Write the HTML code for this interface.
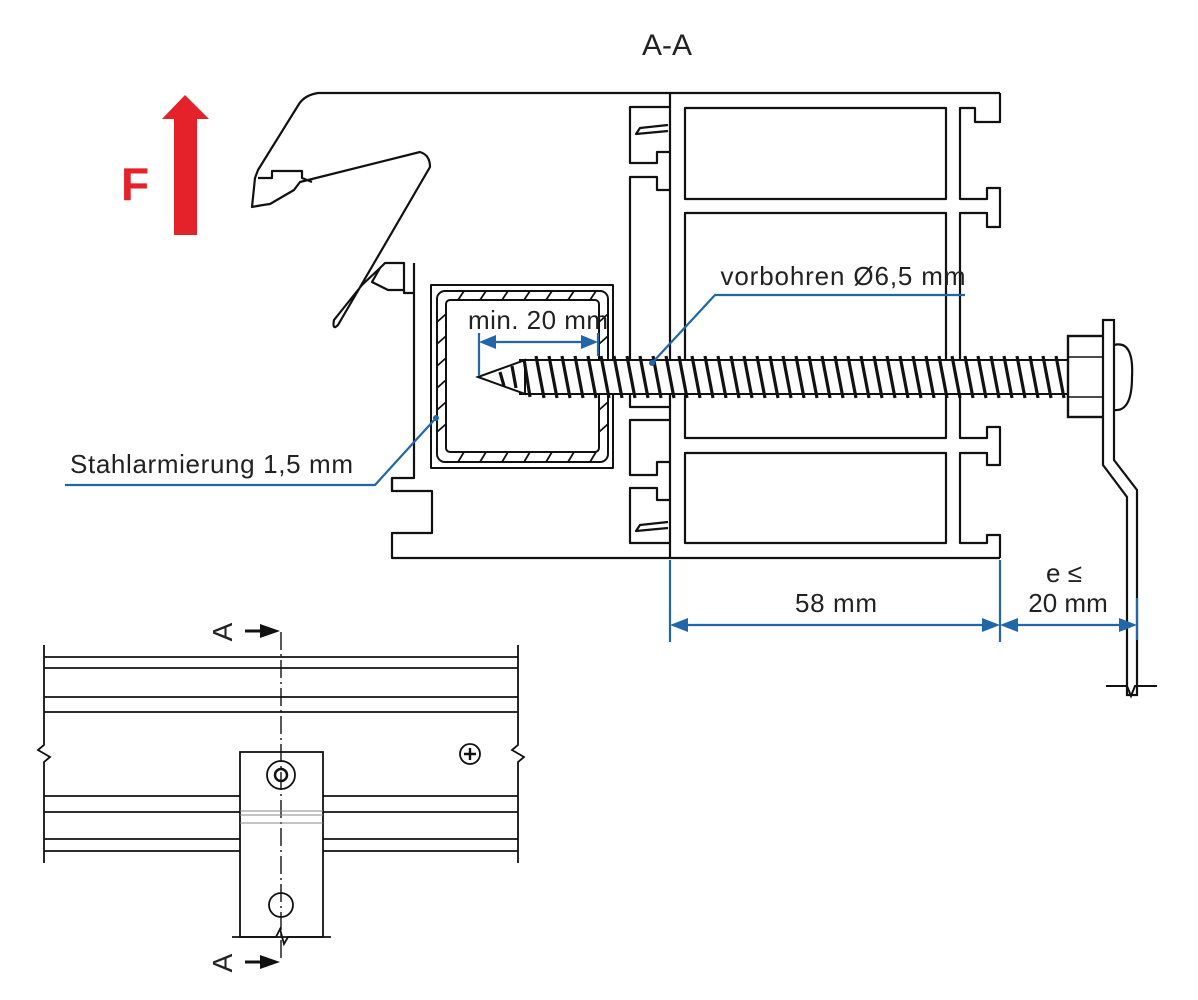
<!DOCTYPE html>
<html><head><meta charset="utf-8"><style>
html,body{margin:0;padding:0;background:#fff;}
svg{display:block;font-family:"Liberation Sans",Arial,sans-serif;}
</style></head><body>
<svg width="1198" height="1000" viewBox="0 0 1198 1000" xmlns="http://www.w3.org/2000/svg">
<rect width="1198" height="1000" fill="#fff"/>
<text x="667" y="55" font-size="30" text-anchor="middle" fill="#222">A-A</text>
<!-- F arrow -->
<polygon points="162,119 185,95 209,119 197,119 197,235 174,235 174,119" fill="#e52129"/>
<text x="121" y="200" font-size="46" font-weight="bold" fill="#e52129">F</text>

<g fill="none" stroke="#111" stroke-width="2.2" stroke-linejoin="round">
<!-- hook -->
<path d="M1000,93 H318 Q305,95 299,104 L258,170 L255,178 L252,207 Q262,205 270,204 L294,190 L300,182 L420,152 Q430,155 430,167 L338,325 Q332,331 334,320 L362,285 L380,268 L385,263 H404 V293 H414"/>
<path d="M258,178 H272 V171 H302 V178 L312,182"/>
<path d="M380,268 L372,282 L388,290 H404"/>
<!-- left lower wall -->
<path d="M414,263 V478 H392 V491 H432 V533 H392 V558 H1000"/>
<path d="M392,491 V478"/>
<!-- center vertical -->
<path d="M670,93 V558"/>
<!-- left column -->
<path d="M670,107 H630 V163 H657 V152 H670"/>
<path d="M668,125 L640,128 L636,134 L668,131"/>
<path d="M670,190 H657 V177 H630 V407 H670"/>
<path d="M670,420 H630 V475 H657 V462 H670"/>
<path d="M670,500 H657 V488 H630 V543 H670"/>
<path d="M668,522 L640,525 L636,531 L668,528"/>
<!-- chambers -->
<rect x="685" y="108" width="261" height="91"/>
<rect x="685" y="213" width="261" height="225"/>
<rect x="685" y="453" width="261" height="90"/>
<!-- right wall -->
<path d="M1000,93 V122 H975 V108 H960 V199 H987 V188 H1000 V227 H987 V213 H960 V438 H987 V427 H1000 V465 H987 V453 H960 V543 H987 V535 H1000 V558"/>
<!-- reinforcement pocket -->
<rect x="431" y="285" width="182" height="183" stroke-width="2"/>
<rect x="437" y="291" width="171" height="171" rx="8" stroke-width="2"/>
<rect x="446" y="300" width="153" height="152" rx="4" stroke-width="2"/>
</g>
<!-- hatching -->
<g stroke="#111" stroke-width="1.8">
<path d="M458,300 L464,291 M480,300 L486,291 M502,300 L508,291 M524,300 L530,291 M546,300 L552,291 M568,300 L574,291 M590,300 L596,291"/>
<path d="M458,462 L464,452 M480,462 L486,452 M502,462 L508,452 M524,462 L530,452 M546,462 L552,452 M568,462 L574,452 M590,462 L596,452"/>
<path d="M437,322 L446,314 M437,344 L446,336 M437,366 L446,358 M437,388 L446,380 M437,410 L446,402 M437,432 L446,424"/>
<path d="M599,322 L608,314 M599,344 L608,336 M599,410 L608,402 M599,432 L608,424"/>
</g>
<!-- screw -->
<g>
<rect x="520" y="360" width="548" height="34" fill="#fff" stroke="#111" stroke-width="2"/>
<path d="M478,377 L525,360 V394 Z" fill="#fff" stroke="#111" stroke-width="2"/>
<g stroke="#111" stroke-width="3.2">
<path d="M500,372 l4,14 M512,366 l4,22 M524,359 l6,38"/>
<path d="M536,356 l8,42 M549,356 l8,42 M562,356 l8,42 M575,356 l8,42 M588,356 l8,42 M601,356 l8,42 M614,356 l8,42 M627,356 l8,42 M640,356 l8,42 M653,356 l8,42 M666,356 l8,42 M679,356 l8,42 M692,356 l8,42 M705,356 l8,42 M718,356 l8,42 M731,356 l8,42 M744,356 l8,42 M757,356 l8,42 M770,356 l8,42 M783,356 l8,42 M796,356 l8,42 M809,356 l8,42 M822,356 l8,42 M835,356 l8,42 M848,356 l8,42 M861,356 l8,42 M874,356 l8,42 M887,356 l8,42 M900,356 l8,42 M913,356 l8,42 M926,356 l8,42 M939,356 l8,42 M952,356 l8,42 M965,356 l8,42 M978,356 l8,42 M991,356 l8,42 M1004,356 l8,42 M1017,356 l8,42 M1030,356 l8,42 M1043,356 l8,42 M1056,356 l8,42"/>
</g>
<rect x="1068" y="336" width="36" height="81" fill="#fff" stroke="#111" stroke-width="2.4"/>
<path d="M1068,357 H1104 M1068,397 H1104" stroke="#111" stroke-width="1.5"/>
<path d="M1114,345 Q1134,340 1132,377 Q1132,412 1114,410" fill="#fff" stroke="#111" stroke-width="2.2"/>
<path d="M1103,320 H1114 V460 L1137,490 V695 H1127 V497 L1103,465 Z" fill="#fff" stroke="#111" stroke-width="2.2"/>
<path d="M1106,686 H1127 L1131,696 L1135,686 H1157" fill="none" stroke="#111" stroke-width="2"/>
</g>
<!-- dimensions -->
<g stroke="#2266aa" stroke-width="2.2" fill="none">
<path d="M670,560 V642 M1000,560 V642 M1137,598 V640"/>
<path d="M684,625 H986 M1014,625 H1123"/>
<path d="M479,333 V376 M598,333 V356 M492,342 H585"/>
<path d="M965,295 H715 L652,363"/>
<path d="M65,485 H375 L436,418"/>
</g>
<g fill="#2266aa">
<polygon points="670,625 688,618 688,632"/><polygon points="1000,625 982,618 982,632"/>
<polygon points="1000,625 1018,618 1018,632"/><polygon points="1137,625 1119,618 1119,632"/>
<polygon points="479,342 496,335 496,349"/><polygon points="598,342 581,335 581,349"/>
<circle cx="652" cy="363" r="3"/><circle cx="436" cy="418" r="3"/>
</g>
<g font-size="26" fill="#222">
<text x="836" y="612" text-anchor="middle" textLength="82">58 mm</text>
<text x="1064" y="582" text-anchor="middle">e ≤</text>
<text x="1068" y="612" text-anchor="middle">20 mm</text>
<text x="538" y="329" text-anchor="middle" textLength="140">min. 20 mm</text>
<text x="843" y="285" text-anchor="middle" textLength="245">vorbohren Ø6,5 mm</text>
<text x="70" y="473" textLength="283">Stahlarmierung 1,5 mm</text>
</g>

<!-- bottom-left view -->
<g stroke="#111" stroke-width="1.8" fill="none">
<path d="M44,645 V745 L38,750 L50,757 L44,762 V863"/>
<path d="M518,645 V745 L512,750 L524,757 L518,762 V863"/>
<path d="M44,657 H518 M44,668 H518 M44,697 H518 M44,712 H518"/>
<path d="M44,796 H240 M44,812 H240 M44,839 H240 M44,851 H240"/>
<path d="M323,796 H518 M323,812 H518 M323,839 H518 M323,851 H518"/>
<rect x="240" y="752" width="83" height="185"/>
<path d="M232,937 H276 L280,929 L284,944 L288,937 H331"/>
<circle cx="281" cy="775" r="14"/><circle cx="281" cy="775" r="6" stroke-width="2.5"/>
<circle cx="281" cy="905" r="12"/>
<circle cx="470" cy="754" r="10"/>
<path d="M470,748 V760 M464,754 H476" stroke-width="2.4"/>
<path d="M281,632 V962" stroke-dasharray="18,4,2,4" stroke-width="1.4"/>
</g>
<path d="M240,811 H323 M240,815 H323 M240,823 H323" stroke="#888" stroke-width="1"/>
<g fill="#111">
<path d="M245,631 H262" stroke="#111" stroke-width="3"/><polygon points="260,624 280,631 260,638"/>
<path d="M245,962 H262" stroke="#111" stroke-width="3"/><polygon points="260,955 280,962 260,969"/>
</g>
<g font-size="28" fill="#222">
<text transform="translate(232,632) rotate(-90)" text-anchor="middle">A</text>
<text transform="translate(232,963) rotate(-90)" text-anchor="middle">A</text>
</g>
</svg>
</body></html>
